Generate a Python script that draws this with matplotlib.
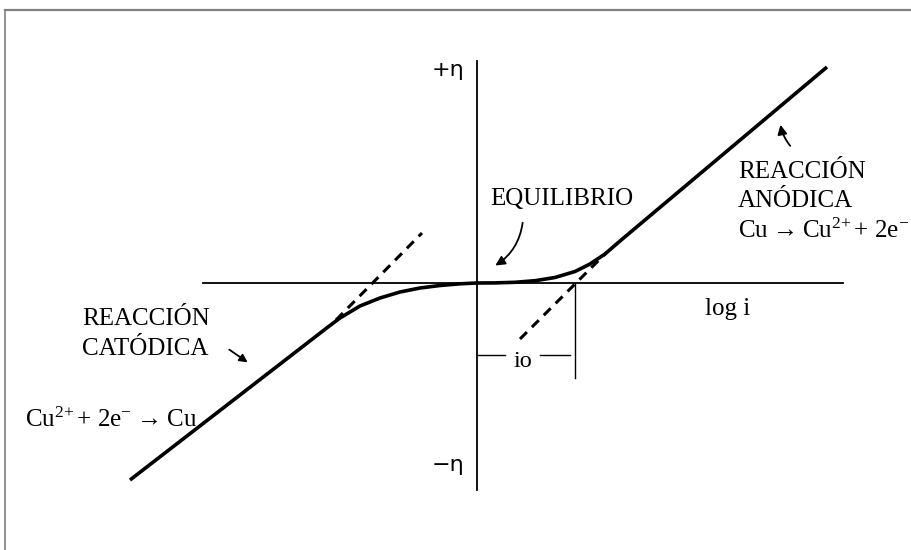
import matplotlib
matplotlib.use("Agg")
import matplotlib.pyplot as plt
from matplotlib.lines import Line2D

plt.rcParams['font.family'] = ['Liberation Serif', 'DejaVu Serif']
plt.rcParams['mathtext.fontset'] = 'custom'
plt.rcParams['mathtext.rm'] = 'Liberation Serif'
plt.rcParams['mathtext.it'] = 'Liberation Serif'

# curva de polarización (log i, eta)
curva_x = [-3.47, -1.49, -1.37, -1.17, -0.97, -0.77, -0.57, -0.37, -0.17, 0.0,
           0.18, 0.38, 0.58, 0.78, 0.98, 1.13, 1.28, 1.43, 3.50]
curva_y = [-1.97, -0.44, -0.35, -0.23, -0.15, -0.09, -0.05, -0.025, -0.008, 0.0,
           0.001, 0.007, 0.023, 0.055, 0.115, 0.19, 0.29, 0.42, 2.16]

# extrapolaciones de Tafel
tafel_cat_x = [-1.41, -0.55]
tafel_cat_y = [-0.37, 0.50]
tafel_an_x = [0.43, 1.30]
tafel_an_y = [-0.56, 0.31]

# ejes y corriente de intercambio
eje_x = [-2.74, 3.66]
eje_y = [-2.07, 2.22]
io = 0.98

fig = plt.figure(figsize=(9.11, 5.5), dpi=100)
ax = fig.add_axes([0, 0, 1, 1])
ax.set_xlim(-4.77, 4.34)
ax.set_ylim(-2.67, 2.83)
ax.axis('off')

# marco (solo arriba e izquierda)
fig.add_artist(Line2D([4.5 / 911, 1], [1 - 9.5 / 550, 1 - 9.5 / 550],
                      transform=fig.transFigure, color='#808080', lw=1.6))
fig.add_artist(Line2D([4.5 / 911, 4.5 / 911], [0, 1 - 9.5 / 550],
                      transform=fig.transFigure, color='#808080', lw=1.2))

# ejes
ax.plot(eje_x, [0, 0], color='black', lw=1.3)
ax.plot([0, 0], eje_y, color='black', lw=1.3)

# curva y rectas de Tafel
ax.plot(curva_x, curva_y, color='black', lw=2.6, solid_capstyle='butt',
        solid_joinstyle='round')
ax.plot(tafel_cat_x, tafel_cat_y, color='black', lw=2.2, dashes=(3.2, 2.3))
ax.plot(tafel_an_x, tafel_an_y, color='black', lw=2.2, dashes=(3.2, 2.3))

# io
ax.plot([io, io], [0, -0.95], color='black', lw=1.0)
ax.plot([0, 0.28], [-0.72, -0.72], color='black', lw=1.0)
ax.plot([0.63, io - 0.05], [-0.72, -0.72], color='black', lw=1.0)
ax.text(0.46, -0.84, 'io', fontsize=17.5, ha='center', va='baseline')

fs = 18
ax.text(-0.29, 2.13, '+η', fontsize=16, ha='center', va='center',
        family=['DejaVu Sans'])
ax.text(-0.29, -1.82, '−η', fontsize=16, ha='center', va='center',
        family=['DejaVu Sans'])
ax.text(2.28, -0.32, 'log i', fontsize=fs, va='baseline')

ax.text(0.13, 0.78, 'EQUILIBRIO', fontsize=fs, va='baseline')
ax.annotate('', xy=(0.16, 0.16), xytext=(0.46, 0.63),
            arrowprops=dict(arrowstyle='-|>', color='black', lw=1.3,
                            mutation_scale=14,
                            connectionstyle='arc3,rad=-0.25'))

ax.text(2.61, 1.05, 'REACCIÓN', fontsize=fs, va='baseline')
ax.text(2.61, 0.76, 'ANÓDICA', fontsize=fs, va='baseline')
ax.text(2.61, 0.45, 'Cu\u2009→\u2009Cu$^{2\\!+}$+ 2e$^{-}$', fontsize=fs,
        va='baseline')
ax.annotate('', xy=(3.03, 1.61), xytext=(3.15, 1.35),
            arrowprops=dict(arrowstyle='-|>', color='black', lw=1.3,
                            mutation_scale=14,
                            connectionstyle='arc3,rad=-0.15'))

ax.text(-3.95, -0.42, 'REACCIÓN', fontsize=fs, va='baseline')
ax.text(-3.95, -0.72, 'CATÓDICA', fontsize=fs, va='baseline')
ax.annotate('', xy=(-2.27, -0.81), xytext=(-2.50, -0.65),
            arrowprops=dict(arrowstyle='-|>', color='black', lw=1.3,
                            mutation_scale=12))

ax.text(-4.52, -1.44, 'Cu$^{2\\!+}$+ 2e$^{-}$\u2009→\u2009Cu', fontsize=fs,
        va='baseline')

fig.savefig('out.png', dpi=100)
